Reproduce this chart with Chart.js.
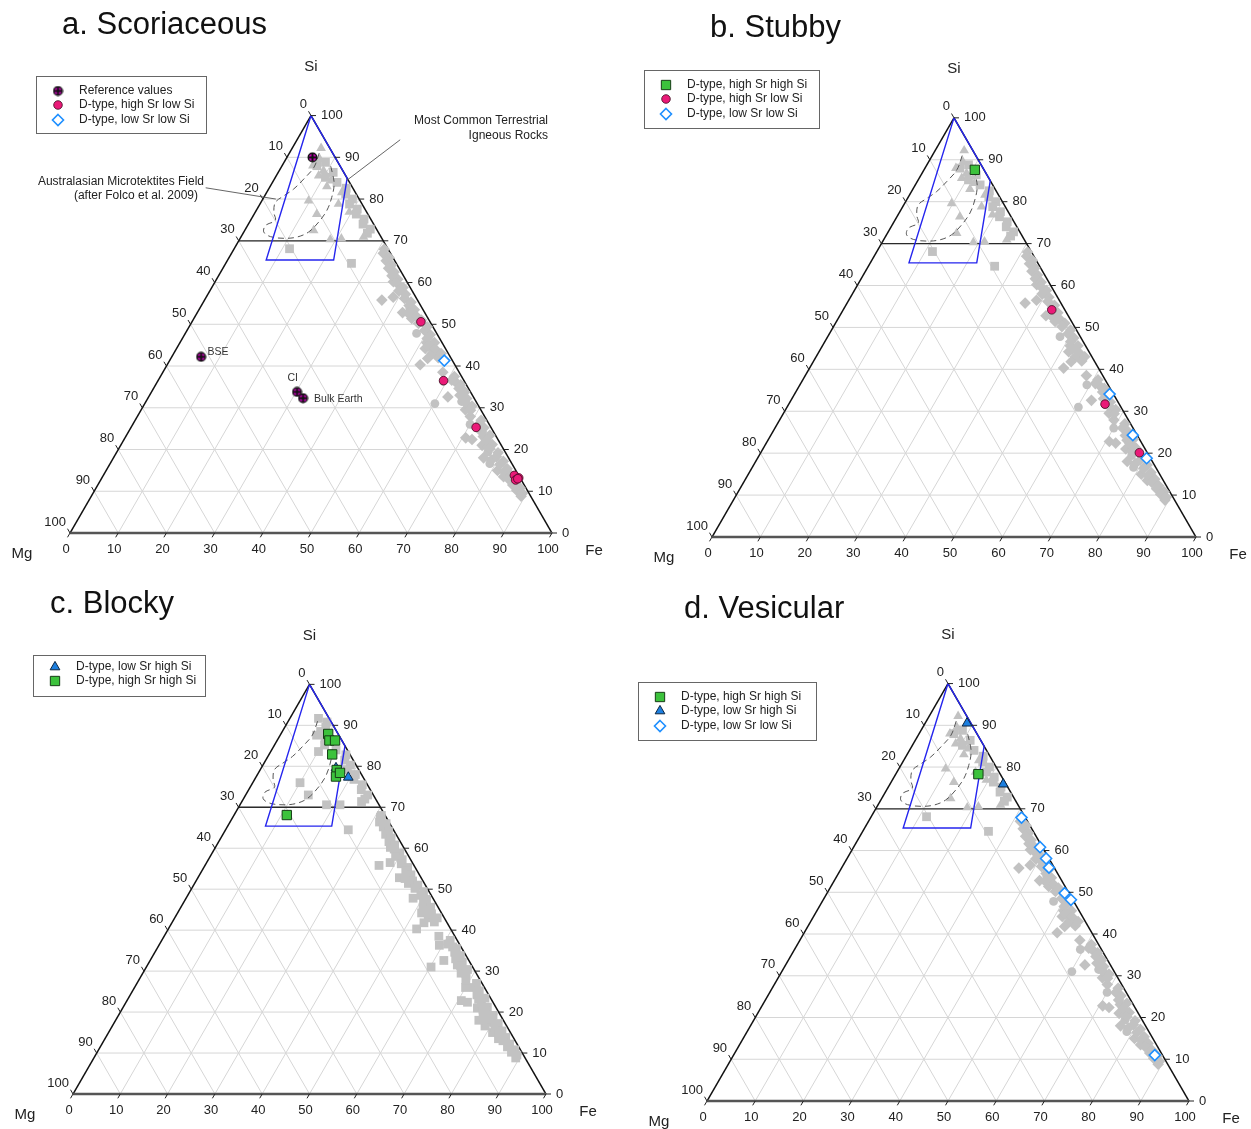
<!DOCTYPE html>
<html>
<head>
<meta charset="utf-8">
<script src="https://cdn.jsdelivr.net/npm/chart.js@4.4.1/dist/chart.umd.min.js"></script>
<style>
  body { margin: 0; background: #fff; }
  #page { position: relative; width: 1251px; height: 1129px; overflow: hidden; }
  #page canvas { position: absolute; left: 0; top: 0; }
</style>
</head>
<body>
<div id="page">
  <canvas id="chartA" width="1251" height="1129"></canvas>
  <canvas id="chartB" width="1251" height="1129"></canvas>
  <canvas id="chartC" width="1251" height="1129"></canvas>
  <canvas id="chartD" width="1251" height="1129"></canvas>
</div>
<script>
// All compositions are [Si, Mg] in %, Fe = 100 - Si - Mg

// grey background data (shared by the panels)
const greyEdgeBand = [
  [68, 0.8], [67, 1.5], [66, 0.8], [65.2, 1.8], [64.2, 1.2], [63.4, 2.2], [62.5, 1.5], [61.6, 2.4],
  [60.8, 1.6], [59.8, 2.2], [58.8, 1.5], [58, 2.8], [57.2, 1.8], [56.2, 2.5], [55.3, 1.6], [54.5, 2.4],
  [53.5, 1.8], [52.6, 3.5], [52, 2.2], [51, 1.6], [50.2, 2.6], [49.4, 1.2], [48.5, 2.2], [47.5, 1.5],
  [46.6, 2.6], [45.6, 1.6], [44.8, 3.2], [44, 2.2], [43, 1.5], [42, 2.6], [37.5, 1.5], [36.6, 2.5],
  [35.5, 1.2], [34.6, 2], [33.8, 1.2], [33, 2.6], [32.2, 1.6], [31.3, 2.4], [30.4, 1.4], [29.4, 2.2],
  [27, 1.2], [26, 2.2], [25.2, 1.5], [24.2, 2.5], [23.4, 1.2], [22.3, 2.5], [21.2, 1.8], [20.2, 2.8],
  [19.2, 1.6], [18.3, 2.4], [17.2, 1.5], [16.4, 2.6], [15.4, 1.6], [14.6, 2.6], [13.8, 1.6], [13, 2.6],
  [12.2, 1.6], [11.5, 2.4], [10.8, 1.2], [10.2, 2.2], [9.5, 1.4], [8.8, 2]
];
const greyEdgeScatter = [
  [60.2, 2.8], [55.8, 7.4], [56.5, 4.7], [51.4, 3.4], [52.8, 4.6], [45.6, 3.2], [44.2, 4.2], [43, 3.4],
  [40.3, 7.2], [41.8, 4.9], [38.5, 3.4], [35.9, 1.8], [32.6, 5.3], [29.5, 3.2], [27.9, 3.0], [22.8, 6.5],
  [22.4, 5.4], [23.1, 2.7], [21, 4], [20.6, 3], [17.5, 3.8], [18, 5.2], [13.5, 3.3], [15, 3.8]
];
const greyEdgeCircles = [
  [53.8, 2.6], [47.8, 4.2], [36.3, 4.4], [31, 8.8], [31.5, 3], [26, 4], [16.6, 4.6], [19.4, 3.6]
];
const greyTopTriangles = [
  [92.2, 1.8], [89.5, 3.4], [88, 5.6], [86.8, 4], [85.6, 5.6], [84.4, 3.6], [83, 5.2], [81.6, 2.8],
  [79.6, 10.7], [78.8, 4.9], [76.9, 3.6], [76.4, 10.6], [72.5, 13.2], [70.3, 10.85], [70.5, 8.45], [70.9, 3.65]
];
const greyTopSquares = [
  [88.8, 2.6], [88, 4.8], [86.4, 2.2], [85.2, 4.4], [84, 2.6], [82.6, 1.4], [81.2, 2.2], [80, 1.4],
  [78.8, 2.6], [77.6, 1.6], [76.4, 2.4], [75.2, 1.4], [74, 2.2], [72.8, 1.3], [71.8, 2.4], [68.1, 20.4], [64.6, 9.3]
];
const greyTopSquaresBlocky = [
  [91.7, 2.25], [90.8, 0.9], [89.5, 1.8], [88.5, 3.4], [87.6, 4.7], [86.6, 3.4], [85.2, 4.2], [83.6, 6.3],
  [84, 2.4], [82.8, 0.9], [81.5, 1.8], [80.3, 1.2], [79.2, 2.4], [78, 1.3], [76.8, 2.2], [75.5, 1.1],
  [74.3, 1.9], [73, 1.2], [72, 2.3], [76, 14], [73, 13.75], [70.6, 11.1], [70.6, 8.25], [71.4, 3.3],
  [64.5, 9.55], [67.6, 1.2], [66.4, 2]
];

// a. Scoriaceous
const scorReference = [[90, 4.7], [42.2, 51.7], [33.8, 36], [32.3, 35.5]];
const scorReferenceLabels = ['', 'BSE', 'CI', 'Bulk Earth'];
const scorHighSrLowSi = [[50.6, 1.9], [36.5, 4.25], [25.3, 3.1], [13.8, 0.9], [13.2, 0.3], [12.7, 1.2], [13.0, 0.6]];
const scorLowSrLowSi = [[41.3, 1.7]];
// b. Stubby
const stubHighSrHighSi = [[87.6, 1.9]];
const stubHighSrLowSi = [[54.2, 2.7], [31.7, 2.95], [20.1, 1.65]];
const stubLowSrLowSi = [[34.1, 0.8], [24.3, 0.9], [18.8, 0.8]];
// c. Blocky
const blockLowSrHighSi = [[77.3, 3.15], [79.6, 4.6]];
const blockHighSrHighSi = [[87.9, 2.1], [86.3, 2.65], [86.3, 1.45], [82.9, 3.75], [79.1, 4.7], [77.5, 5.65], [78.4, 4.35], [68.1, 20.75]];
// d. Vesicular
const vesHighSrHighSi = [[78.3, 4.55]];
const vesLowSrHighSi = [[90.5, 0.8], [75.9, 0.6]];
const vesLowSrLowSi = [[67.9, 0.8], [60.8, 0.5], [58.1, 0.6], [55.9, 1.1], [49.8, 0.9], [48.2, 0.4], [11, 1.6]];

// fields
const igneousField = [[100, 0], [85, 0], [65.4, 12.6], [65.4, 26.6], [100, 0]];
const tektiteField = [
  [91, 2.8], [87.6, 5.6], [84.8, 9.1], [82.4, 12.4], [80.8, 15.2], [79.2, 17.8], [76.8, 19.3], [74.9, 19.95],
  [73.7, 22.55], [72.1, 23.75], [71.0, 22.9], [70.6, 20.3], [70.9, 17.45], [72.1, 14.45], [74.5, 11.15],
  [77.3, 8.05], [80.4, 5.5], [83.6, 3.4], [86.4, 2.4], [88.5, 1.8]
];
const tickValues = [0, 10, 20, 30, 40, 50, 60, 70, 80, 90, 100];

const W = 1251, H = 1129;
const H3 = Math.sqrt(3) / 2;
const FONT = '"Liberation Sans", Arial, sans-serif';

// ternary -> cartesian (Mg at origin, Fe at x = 100)
function tern(pairs) {
  return pairs.map(([si, mg]) => ({ x: 100 - mg - si / 2, y: si * H3 }));
}

function makeRefMarker() {
  const c = document.createElement('canvas');
  c.width = 11; c.height = 11;
  const g = c.getContext('2d');
  g.beginPath();
  g.arc(5.5, 5.5, 4.3, 0, Math.PI * 2);
  g.fillStyle = '#d000c0';
  g.fill();
  g.lineWidth = 1.4;
  g.strokeStyle = '#111';
  g.stroke();
  g.lineWidth = 2;
  g.beginPath();
  g.moveTo(5.5, 1.5); g.lineTo(5.5, 9.5);
  g.moveTo(1.5, 5.5); g.lineTo(9.5, 5.5);
  g.stroke();
  return c;
}
const refMarker = makeRefMarker();

const STY = {
  ref: { shape: refMarker, r: 5, fill: '#111', line: '#111', lw: 0 },
  pink: { shape: 'circle', r: 4.3, fill: '#ea1a78', line: '#3d0a1e', lw: 0.8 },
  blueDia: { shape: 'rectRot', r: 5.5, fill: '#ffffff', line: '#1e8fff', lw: 1.6 },
  green: { shape: 'rect', r: 6.6, fill: '#3cc23c', line: '#163d16', lw: 1 },
  blueTri: { shape: 'triangle', r: 5.6, fill: '#1c7fe0', line: '#0b2440', lw: 1 },
  gDia: { shape: 'rectRot', r: 5.8, fill: '#c2c2c2', line: '#c2c2c2', lw: 0 },
  gCir: { shape: 'circle', r: 4.4, fill: '#c2c2c2', line: '#c2c2c2', lw: 0 },
  gTri: { shape: 'triangle', r: 5.6, fill: '#c2c2c2', line: '#c2c2c2', lw: 0 },
  gSq: { shape: 'rect', r: 6.2, fill: '#c2c2c2', line: '#c2c2c2', lw: 0 },
};

function pts(pairs, sty, order) {
  return {
    data: tern(pairs), pointStyle: sty.shape, pointRadius: sty.r, pointHoverRadius: sty.r,
    backgroundColor: sty.fill, borderColor: sty.line, borderWidth: sty.lw, order: order, clip: false
  };
}
function fieldLines() {
  return [
    { data: tern(igneousField), showLine: true, pointRadius: 0, borderColor: '#2525ee', borderWidth: 1.4,
      tension: 0, fill: false, order: 2, clip: false },
    { data: tern(tektiteField), showLine: true, pointRadius: 0, borderColor: '#555', borderWidth: 1,
      borderDash: [6, 4], tension: 0.35, fill: false, order: 2, clip: false },
  ];
}
function greyLayer(edgeSty, circSty, triSty, sqSty, topSq) {
  return [
    pts(greyEdgeBand, edgeSty, 3), pts(greyEdgeScatter, edgeSty, 3), pts(greyEdgeCircles, circSty, 3),
    pts(greyTopTriangles, triSty, 3), pts(topSq, sqSty, 3),
  ];
}

const panelInfo = {
  chartA: { vx: 70, vy: 533, side: 482, title: 'a. Scoriaceous', tx: 62, ty: 25,
    box: [36, 76, 170, 57], rowY: [91, 105, 120], markX: 58, textX: 79,
    legend: [['ref', 'Reference values'], ['pink', 'D-type, high Sr low Si'], ['blueDia', 'D-type, low Sr low Si']] },
  chartB: { vx: 712, vy: 537, side: 484, title: 'b. Stubby', tx: 710, ty: 28,
    box: [644, 70, 175, 58], rowY: [85, 99, 114], markX: 666, textX: 687,
    legend: [['green', 'D-type, high Sr high Si'], ['pink', 'D-type, high Sr low Si'], ['blueDia', 'D-type, low Sr low Si']] },
  chartC: { vx: 73, vy: 1094, side: 473, title: 'c. Blocky', tx: 50, ty: 604,
    box: [33, 655, 172, 41], rowY: [667, 681], markX: 55, textX: 76,
    legend: [['blueTri', 'D-type, low Sr high Si'], ['green', 'D-type, high Sr high Si']] },
  chartD: { vx: 707, vy: 1101, side: 482, title: 'd. Vesicular', tx: 684, ty: 609,
    box: [638, 682, 178, 58], rowY: [697, 711, 726], markX: 660, textX: 681,
    legend: [['green', 'D-type, high Sr high Si'], ['blueTri', 'D-type, low Sr high Si'], ['blueDia', 'D-type, low Sr low Si']] },
};

function pixelFn(chart) {
  const sx = chart.scales.x, sy = chart.scales.y;
  return (si, mg) => [sx.getPixelForValue(100 - mg - si / 2), sy.getPixelForValue(si * H3)];
}
function seg(ctx, a, b) {
  ctx.beginPath(); ctx.moveTo(a[0], a[1]); ctx.lineTo(b[0], b[1]); ctx.stroke();
}
function drawMark(ctx, key, x, y) {
  const s = STY[key];
  if (key === 'ref') { ctx.drawImage(refMarker, x - 5.5, y - 5.5); return; }
  ctx.beginPath();
  if (s.shape === 'circle') ctx.arc(x, y, s.r, 0, Math.PI * 2);
  else if (s.shape === 'rect') { const h = s.r * Math.SQRT1_2; ctx.rect(x - h, y - h, 2 * h, 2 * h); }
  else if (s.shape === 'rectRot') {
    ctx.moveTo(x, y - s.r); ctx.lineTo(x + s.r, y); ctx.lineTo(x, y + s.r); ctx.lineTo(x - s.r, y); ctx.closePath();
  } else if (s.shape === 'triangle') {
    for (let i = 0; i < 3; i++) {
      const a = i * 2 * Math.PI / 3;
      const px = x + Math.sin(a) * s.r, py = y - Math.cos(a) * s.r;
      if (i === 0) ctx.moveTo(px, py); else ctx.lineTo(px, py);
    }
    ctx.closePath();
  }
  ctx.fillStyle = s.fill; ctx.fill();
  if (s.lw > 0) { ctx.lineWidth = s.lw; ctx.strokeStyle = s.line; ctx.stroke(); }
}

const ternaryFrame = {
  id: 'ternaryFrame',
  beforeDatasetsDraw(chart) {
    const ctx = chart.ctx;
    const P = pixelFn(chart);
    ctx.save();
    ctx.lineWidth = 1;
    ctx.strokeStyle = '#d6d6d6';
    for (let v = 10; v <= 90; v += 10) {
      seg(ctx, P(v, 100 - v), P(v, 0));
      seg(ctx, P(100 - v, v), P(0, v));
      seg(ctx, P(100 - v, 0), P(0, 100 - v));
    }
    ctx.strokeStyle = '#2b2b2b'; ctx.lineWidth = 1.3;
    seg(ctx, P(70, 30), P(70, 0));
    ctx.strokeStyle = '#111'; ctx.lineWidth = 1.5;
    seg(ctx, P(0, 100), P(100, 0));
    seg(ctx, P(100, 0), P(0, 0));
    ctx.strokeStyle = '#555'; ctx.lineWidth = 2.6;
    seg(ctx, P(0, 100), P(0, 0));
    ctx.restore();
  },
  afterDraw(chart) {
    const info = panelInfo[chart.canvas.id];
    const ctx = chart.ctx;
    const P = pixelFn(chart);
    ctx.save();
    // ticks and tick labels
    ctx.strokeStyle = '#222'; ctx.lineWidth = 1;
    ctx.fillStyle = '#222';
    ctx.font = '13px ' + FONT;
    ctx.textBaseline = 'middle';
    tickValues.forEach(v => {
      let [x, y] = P(v, 0);               // Si, right side
      seg(ctx, [x, y], [x + 5, y]);
      ctx.textAlign = 'left'; ctx.fillText(String(v), x + 10, y);
      [x, y] = P(100 - v, v);             // Mg, left side
      seg(ctx, [x, y], [x - 2.5, y - 4.3]);
      ctx.textAlign = 'right'; ctx.fillText(String(v), x - 4, y - 11);
      [x, y] = P(0, 100 - v);             // Fe, bottom
      seg(ctx, [x, y], [x - 2.5, y + 4.3]);
      ctx.textAlign = 'center'; ctx.fillText(String(v), x - 4, y + 16);
    });
    // axis titles
    ctx.font = '15px ' + FONT;
    ctx.textAlign = 'center';
    let [ax, ay] = P(100, 0);
    ctx.fillText('Si', ax, ay - 49);
    [ax, ay] = P(0, 100);
    ctx.fillText('Mg', ax - 48, ay + 21);
    [ax, ay] = P(0, 0);
    ctx.fillText('Fe', ax + 42, ay + 18);
    // panel title
    ctx.font = '31px ' + FONT;
    ctx.textAlign = 'left';
    ctx.fillStyle = '#111';
    ctx.fillText(info.title, info.tx, info.ty);
    // legend box
    const [bx, by, bw, bh] = info.box;
    ctx.fillStyle = '#fff';
    ctx.fillRect(bx, by, bw, bh);
    ctx.strokeStyle = '#666'; ctx.lineWidth = 1;
    ctx.strokeRect(bx + 0.5, by + 0.5, bw, bh);
    ctx.font = '12px ' + FONT;
    info.legend.forEach(([key, label], i) => {
      drawMark(ctx, key, info.markX, info.rowY[i]);
      ctx.fillStyle = '#222';
      ctx.textAlign = 'left';
      ctx.fillText(label, info.textX, info.rowY[i]);
    });
    // annotations of panel a
    if (chart.canvas.id === 'chartA') {
      ctx.font = '10.5px ' + FONT;
      ctx.fillStyle = '#333';
      ctx.textAlign = 'left';
      const offs = [[0, 0], [6.5, -5], [-9.5, -14], [11, 1]];
      scorReference.forEach(([si, mg], i) => {
        if (!scorReferenceLabels[i]) return;
        const [x, y] = P(si, mg);
        ctx.fillText(scorReferenceLabels[i], x + offs[i][0], y + offs[i][1]);
      });
      ctx.font = '12px ' + FONT;
      ctx.fillStyle = '#222';
      ctx.textAlign = 'right';
      ctx.fillText('Most Common Terrestrial', 548, 121);
      ctx.fillText('Igneous Rocks', 548, 136);
      ctx.fillText('Australasian Microtektites Field', 204, 182);
      ctx.fillText('(after Folco et al. 2009)', 198, 196);
      ctx.strokeStyle = '#555'; ctx.lineWidth = 0.9;
      seg(ctx, P(94.2, -15.6), P(84.5, 0.3));
      seg(ctx, P(82.7, 30.5), P(80, 17.3));
    }
    ctx.restore();
  }
};

function makeChart(id, datasets) {
  const info = panelInfo[id];
  const k = info.side / 100;
  return new Chart(document.getElementById(id), {
    type: 'scatter',
    data: { datasets: datasets },
    options: {
      responsive: false,
      animation: false,
      devicePixelRatio: 1,
      events: [],
      layout: { padding: 0, autoPadding: false },
      scales: {
        x: { type: 'linear', display: false, min: -info.vx / k, max: (W - info.vx) / k },
        y: { type: 'linear', display: false, min: (info.vy - H) / k, max: info.vy / k },
      },
      plugins: { legend: { display: false }, tooltip: { enabled: false } },
    },
    plugins: [ternaryFrame],
  });
}

makeChart('chartA', [
  pts(scorReference, STY.ref, 0),
  pts(scorHighSrLowSi, STY.pink, 0),
  pts(scorLowSrLowSi, STY.blueDia, 0),
  ...fieldLines(),
  ...greyLayer(STY.gDia, STY.gCir, STY.gTri, STY.gSq, greyTopSquares),
]);
makeChart('chartB', [
  pts(stubHighSrHighSi, STY.green, 0),
  pts(stubHighSrLowSi, STY.pink, 0),
  pts(stubLowSrLowSi, STY.blueDia, 0),
  ...fieldLines(),
  ...greyLayer(STY.gDia, STY.gCir, STY.gTri, STY.gSq, greyTopSquares),
]);
makeChart('chartC', [
  pts(blockHighSrHighSi, STY.green, 0),
  pts(blockLowSrHighSi, STY.blueTri, 1),
  ...fieldLines(),
  pts(greyEdgeBand, STY.gSq, 3),
  pts(greyEdgeScatter, STY.gSq, 3),
  pts(greyEdgeCircles, STY.gSq, 3),
  pts(greyTopSquaresBlocky, STY.gSq, 3),
]);
makeChart('chartD', [
  pts(vesHighSrHighSi, STY.green, 0),
  pts(vesLowSrHighSi, STY.blueTri, 0),
  pts(vesLowSrLowSi, STY.blueDia, 0),
  ...fieldLines(),
  ...greyLayer(STY.gDia, STY.gCir, STY.gTri, STY.gSq, greyTopSquares),
]);
</script>
</body>
</html>
